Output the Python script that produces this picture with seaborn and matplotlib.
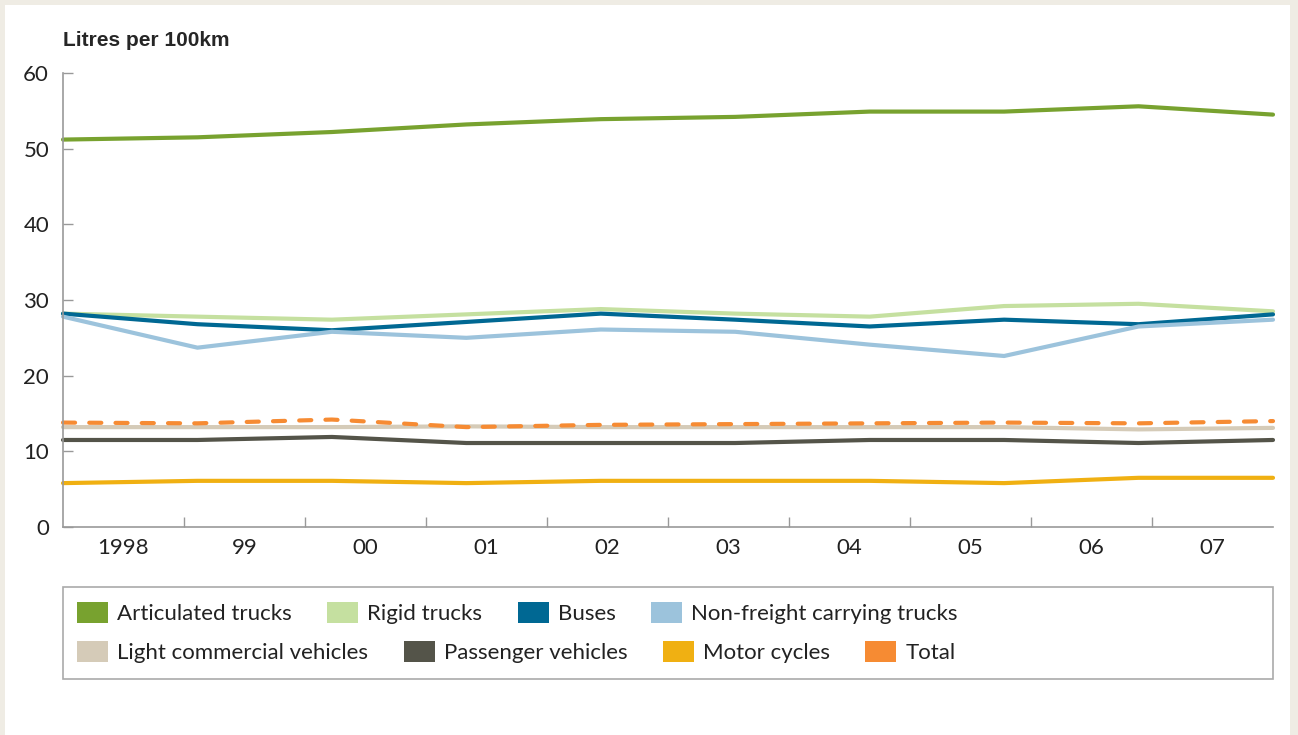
import numpy as np
import pandas as pd
import seaborn as sns
import matplotlib.pyplot as plt
from matplotlib.patches import Patch, Rectangle

# data
years = ['1998', '99', '00', '01', '02', '03', '04', '05', '06', '07']
articulated = [51.2, 51.5, 52.2, 53.2, 53.9, 54.2, 54.9, 54.9, 55.6, 54.5]
rigid = [28.2, 27.8, 27.4, 28.1, 28.8, 28.2, 27.8, 29.2, 29.5, 28.5]
buses = [28.2, 26.8, 26.0, 27.1, 28.2, 27.4, 26.5, 27.4, 26.8, 28.1]
non_freight = [27.8, 23.7, 25.8, 25.0, 26.1, 25.8, 24.1, 22.6, 26.5, 27.4]
light_comm = [13.2, 13.2, 13.2, 13.3, 13.2, 13.2, 13.2, 13.2, 12.9, 13.1]
passenger = [11.5, 11.5, 11.9, 11.1, 11.1, 11.1, 11.5, 11.5, 11.1, 11.5]
motor = [5.8, 6.1, 6.1, 5.8, 6.1, 6.1, 6.1, 5.8, 6.5, 6.5]
total = [13.8, 13.7, 14.2, 13.2, 13.5, 13.6, 13.7, 13.8, 13.7, 14.0]

names = ['Articulated trucks', 'Rigid trucks', 'Buses', 'Non-freight carrying trucks',
         'Light commercial vehicles', 'Passenger vehicles', 'Motor cycles', 'Total']
series = [articulated, rigid, buses, non_freight, light_comm, passenger, motor, total]
colors = ['#78a22f', '#c5e0a0', '#006893', '#9cc3dc',
          '#d5cbb8', '#545449', '#f0b012', '#f68b33']

df = pd.DataFrame({
    'x': np.tile(np.arange(len(years)), len(names)),
    'value': np.concatenate(series),
    'series': np.repeat(names, len(years)),
})

sns.set_style('white')
plt.rcParams['font.family'] = ['Lato', 'DejaVu Sans']
plt.rcParams['lines.dash_capstyle'] = 'round'

fig = plt.figure(figsize=(12.98, 7.35), dpi=100)
fig.patch.set_facecolor('#efece4')
fig.add_artist(Rectangle((5 / 1298, 0), 1285 / 1298, 730 / 735,
                         transform=fig.transFigure, facecolor='white',
                         edgecolor='none', zorder=0))

ax = fig.add_axes([63 / 1298, 1 - 527 / 735, 1210 / 1298, 454 / 735])
ax.set_facecolor('none')

dashes = {n: '' for n in names}
dashes['Total'] = (2.9, 3.4)
sns.lineplot(data=df, x='x', y='value', hue='series', style='series',
             hue_order=names, style_order=names, palette=colors,
             dashes=dashes, linewidth=3.0, legend=False, ax=ax)
for ln in ax.get_lines():
    ln.set_clip_on(False)

ax.set_xlim(0, 9)
ax.set_ylim(0, 60)
ax.set_xlabel('')
ax.set_ylabel('')
ax.set_yticks(range(0, 61, 10))
ax.tick_params(axis='y', direction='in', length=7, width=1, color='#999999',
               labelsize=16, labelcolor='#222222', pad=10, left=True)

step = 9 / len(years)
ax.set_xticks([step * k for k in range(1, len(years))])
ax.set_xticklabels([])
ax.set_xticks([step * (k + 0.5) for k in range(len(years))], minor=True)
ax.set_xticklabels(years, minor=True)
ax.tick_params(axis='x', which='major', direction='in', length=7, width=1,
               color='#999999', bottom=True)
ax.tick_params(axis='x', which='minor', length=0, labelsize=16,
               labelcolor='#222222', pad=8)

for side in ['top', 'right']:
    ax.spines[side].set_visible(False)
for side in ['left', 'bottom']:
    ax.spines[side].set_color('#999999')
    ax.spines[side].set_linewidth(1.2)

fig.text(63 / 1298, 1 - 40 / 735, 'Litres per 100km', fontsize=15,
         fontweight='bold', family=['Liberation Sans', 'DejaVu Sans'],
         ha='left', va='center')

# legend box with two free-flowing rows
fig.add_artist(Rectangle((63 / 1298, 1 - 679 / 735), 1210 / 1298, 92 / 735,
                         transform=fig.transFigure, facecolor='none',
                         edgecolor='#aaaaaa', linewidth=1.2))
handles = [Patch(facecolor=c, edgecolor='none') for c in colors]
for row, ypx in enumerate([613, 652]):
    idx = range(row * 4, row * 4 + 4)
    leg = fig.legend([handles[i] for i in idx], [names[i] for i in idx],
                     loc='center left', bbox_to_anchor=(77 / 1298, 1 - ypx / 735),
                     ncol=4, frameon=False, fontsize=16, handlelength=1.4,
                     handleheight=1.05, handletextpad=0.4, columnspacing=1.6,
                     borderpad=0, borderaxespad=0)
    for t in leg.get_texts():
        t.set_color('#222222')

fig.savefig('out.png', dpi=100, facecolor=fig.get_facecolor())
